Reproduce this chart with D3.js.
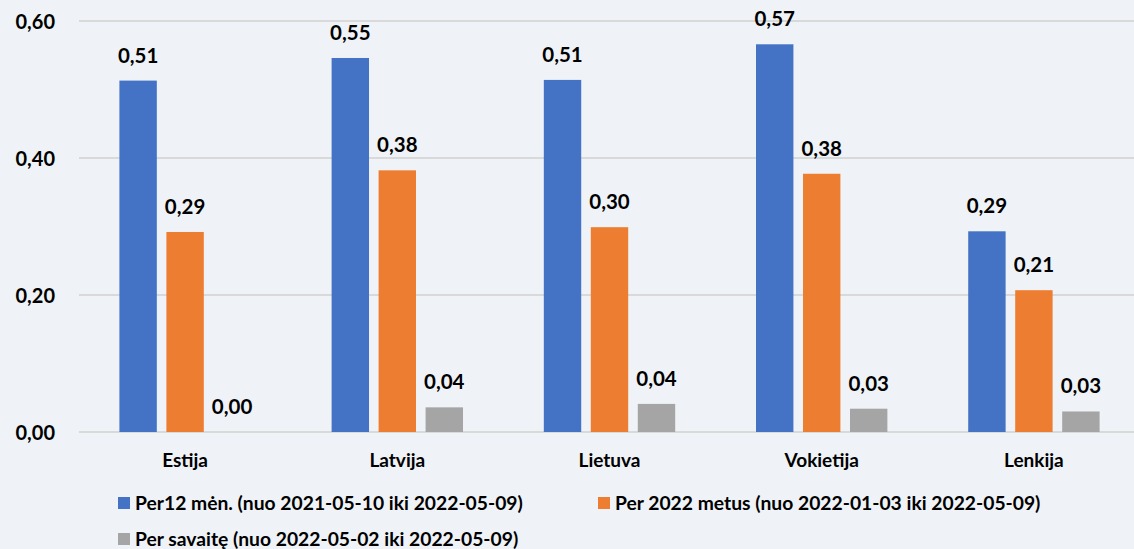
<!DOCTYPE html>
<html>
<head>
<meta charset="utf-8">
<script src="https://cdn.jsdelivr.net/npm/d3@7"></script>
<style>
  html, body { margin: 0; padding: 0; background: #eff3f7; }
  svg { display: block; }
  text { font-family: Lato, "Open Sans", sans-serif; font-weight: bold; fill: #000; }
</style>
</head>
<body>
<svg id="chart" width="1134" height="549"></svg>
<script>
const categories = ["Estija", "Latvija", "Lietuva", "Vokietija", "Lenkija"];
const seriesNames = [
  "Per12 mėn. (nuo 2021-05-10 iki 2022-05-09)",
  "Per 2022 metus (nuo 2022-01-03 iki 2022-05-09)",
  "Per savaitę (nuo 2022-05-02 iki 2022-05-09)"
];
const per12men = [0.513, 0.546, 0.514, 0.566, 0.293];
const per2022 = [0.292, 0.382, 0.299, 0.377, 0.207];
const perSavaite = [0.000, 0.036, 0.041, 0.034, 0.030];
const yTicks = [0, 0.2, 0.4, 0.6];
const colors = ["#4472c4", "#ed7d31", "#a5a5a5"];

const seriesValues = [per12men, per2022, perSavaite];
const fmt = v => d3.format(".2f")(v).replace(".", ",");

const svg = d3.select("#chart");
const W = 1134, H = 549;
svg.append("rect").attr("width", W).attr("height", H).attr("fill", "#eff3f7");

const plotLeft = 79, plotRight = 1140, plotTop = 21, plotBottom = 432;

const y = d3.scaleLinear().domain([0, 0.6]).range([plotBottom, plotTop]);
const x0 = d3.scaleBand().domain(categories).range([plotLeft, plotRight]).padding(0);
const x1 = d3.scaleBand().domain(d3.range(3)).range([0, x0.bandwidth()])
  .paddingInner(0.204).paddingOuter(0.86);

// gridlines
const grid = svg.append("g");
grid.selectAll("line").data(yTicks).join("line")
  .attr("x1", plotLeft).attr("x2", W)
  .attr("y1", d => y(d)).attr("y2", d => y(d))
  .attr("stroke", "#d9d9d9").attr("stroke-width", 2);

// y axis labels
const yAxis = d3.axisLeft(y).tickValues(yTicks).tickFormat(fmt).tickSize(0).tickPadding(0);
const yg = svg.append("g").attr("transform", `translate(55,0)`).call(yAxis);
yg.select(".domain").remove();
yg.selectAll("text").attr("font-size", 20).attr("dy", "0.35em")
  .style("font-family", "Lato, sans-serif").style("font-weight", "bold").attr("fill", "#000");

// bars
const groups = svg.append("g").selectAll("g").data(categories).join("g")
  .attr("transform", d => `translate(${x0(d)},0)`);

groups.each(function(cat, ci) {
  const g = d3.select(this);
  const data = seriesValues.map((arr, si) => ({ si, v: arr[ci] }));
  g.selectAll("rect").data(data).join("rect")
    .attr("x", d => x1(d.si))
    .attr("y", d => y(d.v))
    .attr("width", x1.bandwidth())
    .attr("height", d => y(0) - y(d.v))
    .attr("fill", d => colors[d.si]);
  g.selectAll("text.val").data(data).join("text")
    .attr("class", "val")
    .attr("x", d => x1(d.si) + x1.bandwidth() / 2)
    .attr("y", d => y(d.v) - 18)
    .attr("text-anchor", "middle")
    .attr("font-size", 20.5)
    .text(d => fmt(d.v));
});

// x axis category labels
const xAxis = d3.axisBottom(x0).tickSize(0).tickPadding(0);
const xg = svg.append("g").attr("transform", `translate(0,460)`).call(xAxis);
xg.select(".domain").remove();
xg.selectAll("text").attr("font-size", 19).attr("dy", "0.35em")
  .style("font-family", "Lato, sans-serif").style("font-weight", "bold").attr("fill", "#000");

// legend
const legendPos = [[118, 503], [598, 503], [118, 539]];
const lg = svg.append("g").selectAll("g").data(seriesNames).join("g")
  .attr("transform", (d, i) => `translate(${legendPos[i][0]},${legendPos[i][1]})`);
lg.append("rect").attr("x", 0).attr("y", -6).attr("width", 12).attr("height", 12)
  .attr("fill", (d, i) => colors[i]);
lg.append("text").attr("x", 17).attr("y", 0).attr("dy", "0.35em")
  .attr("font-size", 19.3).text(d => d);
</script>
</body>
</html>
